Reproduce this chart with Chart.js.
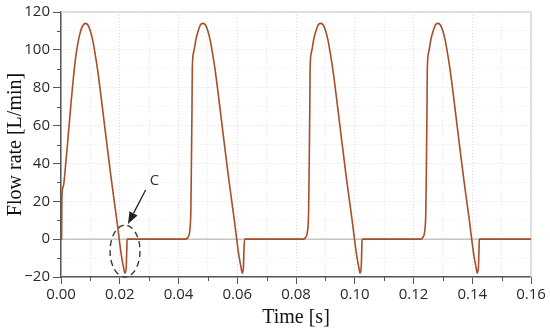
<!DOCTYPE html>
<html>
<head>
<meta charset="utf-8">
<script src="https://cdn.jsdelivr.net/npm/chart.js@4/dist/chart.umd.min.js"></script>
<style>
html,body{margin:0;padding:0;background:#fff;}
#wrap{width:550px;height:336px;position:relative;}
</style>
</head>
<body>
<div id="wrap"><canvas id="c" width="550" height="336"></canvas></div>
<script>
// Time [s]
const times = [
  0, 0.0002, 0.0003, 0.0008, 0.0015, 0.0022, 0.0032, 0.0042, 0.0050, 0.0058, 0.0066, 0.0075, 0.0084,
  0.0092, 0.0100, 0.0108, 0.0116, 0.0125, 0.0135, 0.0150, 0.0170, 0.0190, 0.0205, 0.0213, 0.0218,
  0.0222, 0.0224, 0.0225,
  0.0425, 0.0432, 0.0438, 0.0442, 0.0444, 0.0446, 0.0447, 0.0452, 0.0460, 0.0468, 0.0476, 0.0484,
  0.0492, 0.0500, 0.0508, 0.0516, 0.0525, 0.0535, 0.0550, 0.0570, 0.0590, 0.0605, 0.0613, 0.0617,
  0.0621, 0.0623, 0.0625,
  0.0826, 0.0833, 0.0839, 0.0843, 0.0845, 0.0847, 0.0848, 0.0853, 0.0861, 0.0869, 0.0877, 0.0885,
  0.0893, 0.0901, 0.0909, 0.0917, 0.0926, 0.0936, 0.0951, 0.0971, 0.0991, 0.1006, 0.1014, 0.1018,
  0.1022, 0.1024, 0.1025,
  0.1225, 0.1232, 0.1238, 0.1242, 0.1244, 0.1246, 0.1247, 0.1252, 0.1260, 0.1268, 0.1276, 0.1284,
  0.1292, 0.1300, 0.1308, 0.1316, 0.1325, 0.1335, 0.1350, 0.1370, 0.1390, 0.1405, 0.1413, 0.1417,
  0.1421, 0.1423, 0.1424,
  0.1600
];
// Flow rate [L/min]
const flowRate = [
  0, 0, 22, 28, 38, 50, 68, 85, 96, 104, 109.5, 113, 114,
  113, 110, 105, 98, 89, 77, 58, 33, 10, -8, -15, -18,
  -15, -5, 0,
  0, 1, 4, 15, 40, 70, 90, 99, 106, 110.5, 113.5, 114,
  113, 110, 105, 98, 89, 77, 58, 33, 10, -8, -15, -18,
  -15, -5, 0,
  0, 1, 4, 15, 40, 70, 90, 99, 106, 110.5, 113.5, 114,
  113, 110, 105, 98, 89, 77, 58, 33, 10, -8, -15, -18,
  -15, -5, 0,
  0, 1, 4, 15, 40, 70, 90, 99, 106, 110.5, 113.5, 114,
  113, 110, 105, 98, 89, 77, 58, 33, 10, -8, -15, -18,
  -15, -5, 0,
  0
];
const xTickLabels = ["0.00","0.02","0.04","0.06","0.08","0.10","0.12","0.14","0.16"];
const yTickLabels = ["\u221220","0","20","40","60","80","100","120"];
const xTitle = "Time [s]";
const yTitle = "Flow rate [L/min]";
const annotationLabel = "C";
// annotation anchor positions in data units
const ellipseCenter = [0.0218, -6.3];
const ellipseRadius = [0.0051, 13.7];
const labelPos = [0.0318, 31];
const arrowFrom = [0.0288, 26];
const arrowTo = [0.0228, 8];

const points = times.map((t, i) => ({x: t, y: flowRate[i]}));

const isMajorX = v => Math.round(v * 100) % 2 === 0;
const isMajorY = v => Math.round(v) % 20 === 0;

const deco = {
  id: 'deco',
  beforeDatasetsDraw(chart) {
    const {ctx, chartArea: a, scales: {x, y}} = chart;
    ctx.save();
    ctx.strokeStyle = '#d8d8d8';
    ctx.lineWidth = 1.5;
    ctx.beginPath();
    ctx.moveTo(a.left, a.top); ctx.lineTo(a.right, a.top); ctx.lineTo(a.right, a.bottom);
    ctx.stroke();
    const y0 = y.getPixelForValue(0);
    ctx.strokeStyle = '#c4c4c4';
    ctx.lineWidth = 1.5;
    ctx.beginPath(); ctx.moveTo(a.left, y0); ctx.lineTo(a.right, y0); ctx.stroke();
    ctx.restore();
  },
  afterDatasetsDraw(chart) {
    const {ctx, scales: {x, y}} = chart;
    ctx.save();
    const cx = x.getPixelForValue(ellipseCenter[0]);
    const cy = y.getPixelForValue(ellipseCenter[1]);
    const rx = x.getPixelForValue(ellipseCenter[0] + ellipseRadius[0]) - cx;
    const ry = cy - y.getPixelForValue(ellipseCenter[1] + ellipseRadius[1]);
    ctx.strokeStyle = '#3a3a3a';
    ctx.lineWidth = 1.4;
    ctx.setLineDash([6, 4]);
    ctx.beginPath(); ctx.ellipse(cx, cy, rx, ry, 0, 0, Math.PI * 2); ctx.stroke();
    ctx.setLineDash([]);
    const x1 = x.getPixelForValue(arrowFrom[0]), y1 = y.getPixelForValue(arrowFrom[1]);
    const x2 = x.getPixelForValue(arrowTo[0]), y2 = y.getPixelForValue(arrowTo[1]);
    const ang = Math.atan2(y2 - y1, x2 - x1);
    const hl = 12, hw = 4.5;
    const bx = x2 - hl * Math.cos(ang), by = y2 - hl * Math.sin(ang);
    ctx.strokeStyle = '#222';
    ctx.lineWidth = 1.3;
    ctx.beginPath(); ctx.moveTo(x1, y1); ctx.lineTo(bx, by); ctx.stroke();
    ctx.fillStyle = '#222';
    ctx.beginPath();
    ctx.moveTo(x2, y2);
    ctx.lineTo(bx + hw * Math.sin(ang), by - hw * Math.cos(ang));
    ctx.lineTo(bx - hw * Math.sin(ang), by + hw * Math.cos(ang));
    ctx.closePath(); ctx.fill();
    ctx.fillStyle = '#333';
    ctx.font = '15px "Open Sans", sans-serif';
    ctx.textAlign = 'center';
    ctx.textBaseline = 'middle';
    ctx.fillText(annotationLabel, x.getPixelForValue(labelPos[0]), y.getPixelForValue(labelPos[1]));
    ctx.restore();
  },
  afterDraw(chart) {
    const {ctx, chartArea: a, scales: {x, y}} = chart;
    ctx.save();
    ctx.strokeStyle = '#555';
    ctx.lineWidth = 1;
    ctx.beginPath();
    x.ticks.forEach(t => {
      if (!isMajorX(t.value)) {
        const px = Math.round(x.getPixelForValue(t.value)) + 0.5;
        ctx.moveTo(px, a.bottom); ctx.lineTo(px, a.bottom + 4);
      }
    });
    y.ticks.forEach(t => {
      if (!isMajorY(t.value)) {
        const py = Math.round(y.getPixelForValue(t.value)) + 0.5;
        ctx.moveTo(a.left, py); ctx.lineTo(a.left - 4, py);
      }
    });
    ctx.stroke();
    ctx.restore();
  }
};

new Chart(document.getElementById('c'), {
  type: 'line',
  data: {
    datasets: [{
      data: points,
      borderColor: '#a84e28',
      borderWidth: 1.6,
      pointRadius: 0,
      fill: false,
      cubicInterpolationMode: 'monotone'
    }]
  },
  options: {
    responsive: false,
    animation: false,
    devicePixelRatio: 1,
    layout: {padding: {top: 11, right: 19, left: 0, bottom: 0}},
    plugins: {legend: {display: false}, tooltip: {enabled: false}},
    scales: {
      x: {
        type: 'linear',
        min: 0, max: 0.16,
        afterFit(s) { s.height = 59; },
        ticks: {
          stepSize: 0.01,
          autoSkip: false,
          maxRotation: 0,
          padding: 2,
          color: '#2a2a2a',
          font: {family: '"Open Sans", sans-serif', size: 15},
          callback(v) { return isMajorX(v) ? xTickLabels[Math.round(v * 50)] : ''; }
        },
        grid: {
          color: c => (c.tick && isMajorX(c.tick.value)) ? '#dedede' : '#e8e8e8',
          lineWidth: 1,
          tickLength: 7,
          tickColor: c => (c.tick && isMajorX(c.tick.value)) ? '#555' : 'rgba(0,0,0,0)',
          tickWidth: 1
        },
        border: {color: '#555', width: 1.5, dash: [1, 2]},
        title: {
          display: true, text: xTitle, color: '#111',
          font: {family: '"Liberation Serif", "Times New Roman", serif', size: 20},
          padding: {top: 2, bottom: 6}
        }
      },
      y: {
        type: 'linear',
        min: -20, max: 120,
        afterFit(s) { s.width = 61; },
        ticks: {
          stepSize: 10,
          autoSkip: false,
          padding: 3,
          color: '#2a2a2a',
          font: {family: '"Open Sans", sans-serif', size: 15},
          callback(v) { return isMajorY(v) ? yTickLabels[Math.round((v + 20) / 20)] : ''; }
        },
        grid: {
          color: c => (c.tick && isMajorY(c.tick.value)) ? '#dedede' : '#e8e8e8',
          lineWidth: 1,
          tickLength: 8,
          tickColor: c => (c.tick && isMajorY(c.tick.value)) ? '#555' : 'rgba(0,0,0,0)',
          tickWidth: 1
        },
        border: {color: '#555', width: 1.5, dash: [1, 2]},
        title: {
          display: true, text: yTitle, color: '#111',
          font: {family: '"Liberation Serif", "Times New Roman", serif', size: 20},
          padding: {top: 4, bottom: 2}
        }
      }
    }
  },
  plugins: [deco]
});
</script>
</body>
</html>
